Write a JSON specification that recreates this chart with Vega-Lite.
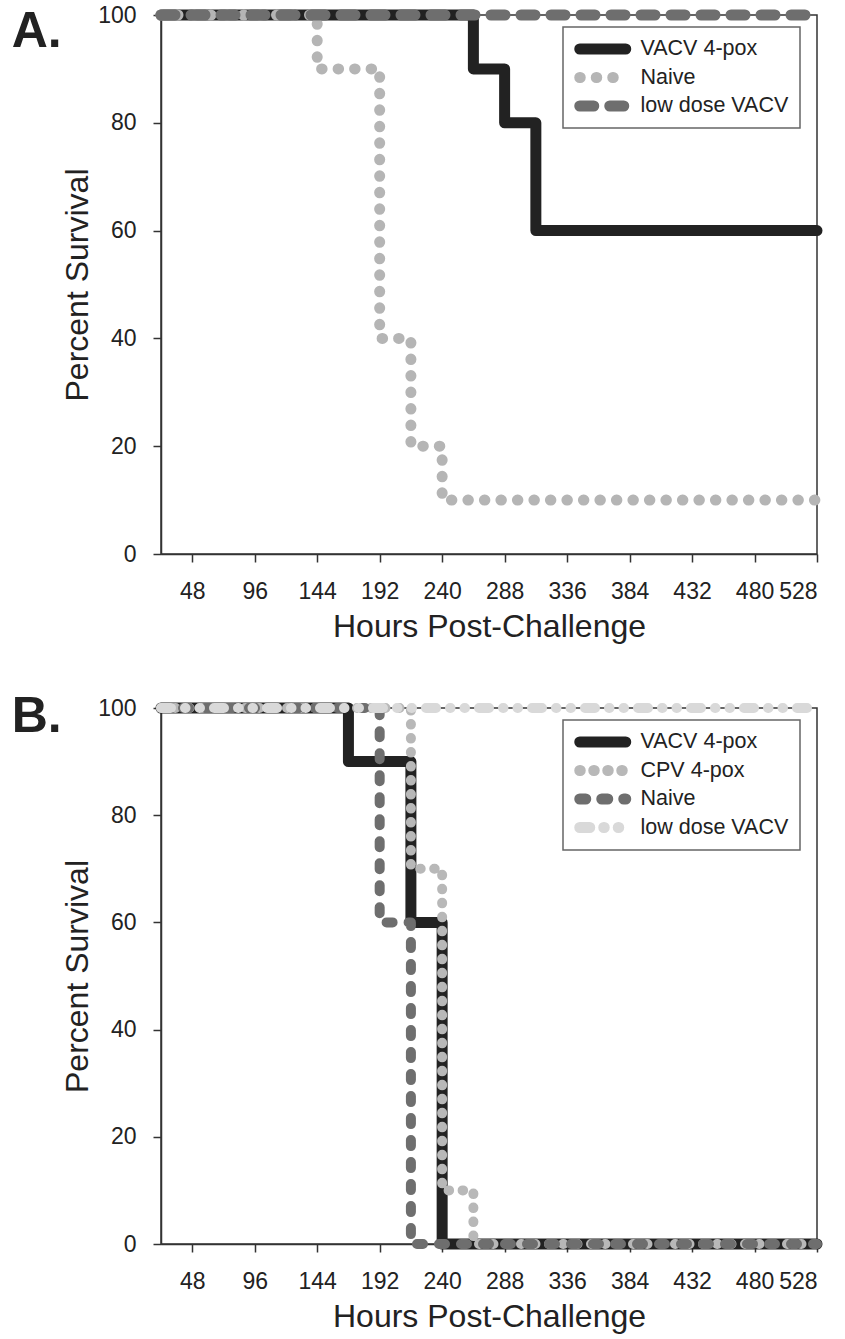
{
  "$schema": "https://vega.github.io/schema/vega-lite/v6.json",
  "padding": {"left": 10, "top": 3, "right": 5, "bottom": 5},
  "background": "white",
  "datasets": {
    "survival": [
      {"panel": "A", "group": "VACV 4-pox", "hours": 24, "survival": 100},
      {"panel": "A", "group": "VACV 4-pox", "hours": 264, "survival": 90},
      {"panel": "A", "group": "VACV 4-pox", "hours": 288, "survival": 80},
      {"panel": "A", "group": "VACV 4-pox", "hours": 312, "survival": 60},
      {"panel": "A", "group": "VACV 4-pox", "hours": 528, "survival": 60},
      {"panel": "A", "group": "Naive", "hours": 24, "survival": 100},
      {"panel": "A", "group": "Naive", "hours": 144, "survival": 90},
      {"panel": "A", "group": "Naive", "hours": 192, "survival": 40},
      {"panel": "A", "group": "Naive", "hours": 216, "survival": 20},
      {"panel": "A", "group": "Naive", "hours": 240, "survival": 10},
      {"panel": "A", "group": "Naive", "hours": 528, "survival": 10},
      {"panel": "A", "group": "low dose VACV", "hours": 24, "survival": 100},
      {"panel": "A", "group": "low dose VACV", "hours": 528, "survival": 100},
      {"panel": "B", "group": "VACV 4-pox", "hours": 24, "survival": 100},
      {"panel": "B", "group": "VACV 4-pox", "hours": 168, "survival": 90},
      {"panel": "B", "group": "VACV 4-pox", "hours": 216, "survival": 60},
      {"panel": "B", "group": "VACV 4-pox", "hours": 240, "survival": 0},
      {"panel": "B", "group": "VACV 4-pox", "hours": 528, "survival": 0},
      {"panel": "B", "group": "CPV 4-pox", "hours": 24, "survival": 100},
      {"panel": "B", "group": "CPV 4-pox", "hours": 216, "survival": 70},
      {"panel": "B", "group": "CPV 4-pox", "hours": 240, "survival": 10},
      {"panel": "B", "group": "CPV 4-pox", "hours": 264, "survival": 0},
      {"panel": "B", "group": "CPV 4-pox", "hours": 528, "survival": 0},
      {"panel": "B", "group": "Naive", "hours": 24, "survival": 100},
      {"panel": "B", "group": "Naive", "hours": 192, "survival": 60},
      {"panel": "B", "group": "Naive", "hours": 216, "survival": 0},
      {"panel": "B", "group": "Naive", "hours": 528, "survival": 0},
      {"panel": "B", "group": "low dose VACV", "hours": 24, "survival": 100},
      {"panel": "B", "group": "low dose VACV", "hours": 528, "survival": 100}
    ]
  },
  "config": {
    "font": "Liberation Sans",
    "view": {"stroke": "#333", "strokeWidth": 1.5},
    "axis": {
      "grid": false,
      "domainColor": "#333",
      "domainWidth": 1.5,
      "tickColor": "#333",
      "tickWidth": 1.5,
      "tickSize": 8,
      "labelFont": "Liberation Sans",
      "labelFontSize": 23,
      "labelColor": "#222",
      "titleFont": "Liberation Sans",
      "titleFontSize": 32,
      "titleFontWeight": "normal",
      "titleColor": "#222"
    },
    "axisX": {"labelPadding": 18, "titlePadding": 8},
    "axisY": {"labelPadding": 17, "titlePadding": 3},
    "legend": {
      "orient": "none",
      "legendX": 402,
      "legendY": 12,
      "title": null,
      "strokeColor": "#666",
      "strokeWidth": 1.5,
      "fillColor": "white",
      "padding": 11,
      "symbolType": "M-1,0H8.2",
      "symbolSize": 100,
      "symbolStrokeWidth": 11,
      "clipHeight": 22,
      "labelFont": "Liberation Sans",
      "labelFontSize": 21.5,
      "labelColor": "#222",
      "labelOffset": 45,
      "rowPadding": 6.5
    },
    "title": {"font": "Liberation Sans", "fontSize": 50, "fontWeight": "bold", "color": "#222", "anchor": "start", "frame": "bounds", "offset": 0}
  },
  "spacing": 48,
  "resolve": {"scale": {"color": "independent", "strokeDash": "independent", "x": "independent", "y": "independent"}, "legend": {"color": "independent", "strokeDash": "independent"}},
  "vconcat": [
    {
      "title": {"text": "A.", "dx": -50, "dy": 57},
      "width": 656,
      "height": 539,
      "data": {"name": "survival"},
      "transform": [{"filter": "datum.panel === 'A'"}],
      "encoding": {
        "x": {"field": "hours", "type": "quantitative", "scale": {"domain": [24, 528], "nice": false, "zero": false},
              "axis": {"values": [48, 96, 144, 192, 240, 288, 336, 384, 432, 480, 528], "title": "Hours Post-Challenge"}},
        "y": {"field": "survival", "type": "quantitative", "scale": {"domain": [0, 100], "nice": false},
              "axis": {"values": [0, 20, 40, 60, 80, 100], "title": "Percent Survival"}},
        "color": {"field": "group", "type": "nominal",
                  "scale": {"domain": ["VACV 4-pox", "Naive", "low dose VACV"], "range": ["#222222", "#b5b5b5", "#6e6e6e"]},
                  "legend": {"encode": {"symbols": {"update": {"strokeCap": {"value": "round"}}}}}},
        "strokeDash": {"field": "group", "type": "nominal",
                  "scale": {"domain": ["VACV 4-pox", "Naive", "low dose VACV"], "range": [[1, 0], [0.5, 16], [14, 16]]},
                  "legend": {"encode": {"symbols": {"update": {"strokeCap": {"value": "round"}}}}}}
      },
      "layer": [
        {"transform": [{"filter": "datum.group === 'VACV 4-pox'"}], "mark": {"type": "line", "interpolate": "step-after", "strokeWidth": 11, "strokeCap": "round", "strokeJoin": "round"}},
        {"transform": [{"filter": "datum.group === 'Naive'"}], "mark": {"type": "line", "interpolate": "step-after", "strokeWidth": 11, "strokeCap": "round", "strokeJoin": "round"}},
        {"transform": [{"filter": "datum.group === 'low dose VACV'"}], "mark": {"type": "line", "interpolate": "step-after", "strokeWidth": 11, "strokeCap": "round", "strokeJoin": "round"}}
      ]
    },
    {
      "title": {"text": "B.", "dx": -50, "dy": 49},
      "width": 656,
      "height": 536,
      "data": {"name": "survival"},
      "transform": [{"filter": "datum.panel === 'B'"}],
      "encoding": {
        "x": {"field": "hours", "type": "quantitative", "scale": {"domain": [24, 528], "nice": false, "zero": false},
              "axis": {"values": [48, 96, 144, 192, 240, 288, 336, 384, 432, 480, 528], "title": "Hours Post-Challenge"}},
        "y": {"field": "survival", "type": "quantitative", "scale": {"domain": [0, 100], "nice": false},
              "axis": {"values": [0, 20, 40, 60, 80, 100], "title": "Percent Survival"}},
        "color": {"field": "group", "type": "nominal",
                  "scale": {"domain": ["VACV 4-pox", "CPV 4-pox", "Naive", "low dose VACV"], "range": ["#222222", "#b8b8b8", "#6e6e6e", "#d9d9d9"]},
                  "legend": {"encode": {"symbols": {"update": {"strokeCap": {"value": "round"}}}}}},
        "strokeDash": {"field": "group", "type": "nominal",
                  "scale": {"domain": ["VACV 4-pox", "CPV 4-pox", "Naive", "low dose VACV"], "range": [[1, 0], [0.5, 13.5], [6, 16], [10, 14, 0.5, 14, 0.5, 14]]},
                  "legend": {"encode": {"symbols": {"update": {"strokeCap": {"value": "round"}}}}}}
      },
      "layer": [
        {"transform": [{"filter": "datum.group === 'VACV 4-pox'"}], "mark": {"type": "line", "interpolate": "step-after", "strokeWidth": 11, "strokeCap": "round", "strokeJoin": "round"}},
        {"transform": [{"filter": "datum.group === 'CPV 4-pox'"}], "mark": {"type": "line", "interpolate": "step-after", "strokeWidth": 10, "strokeCap": "round", "strokeJoin": "round"}},
        {"transform": [{"filter": "datum.group === 'Naive'"}], "mark": {"type": "line", "interpolate": "step-after", "strokeWidth": 10, "strokeCap": "round", "strokeJoin": "round"}},
        {"transform": [{"filter": "datum.group === 'low dose VACV'"}], "mark": {"type": "line", "interpolate": "step-after", "strokeWidth": 10, "strokeCap": "round", "strokeJoin": "round"}}
      ]
    }
  ]
}
